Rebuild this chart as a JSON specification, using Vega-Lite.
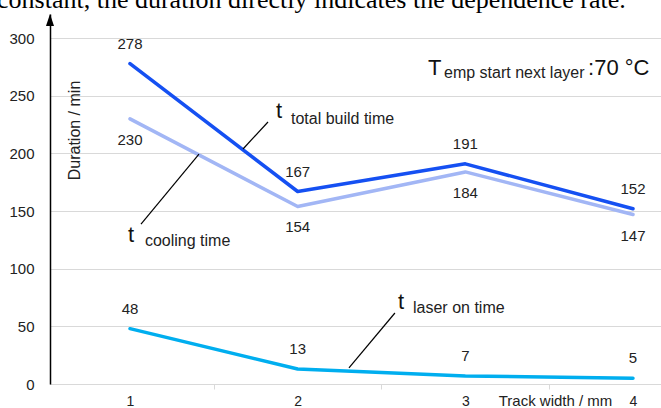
{
  "$schema": "https://vega.github.io/schema/vega-lite/v6.json",
  "width": 611,
  "height": 370,
  "autosize": {"type": "none"},
  "padding": {"left": 50, "top": 14, "right": 0, "bottom": 24},
  "background": "white",
  "config": {"view": {"stroke": null}, "font": "Liberation Sans"},
  "datasets": {
    "series": [
      {"track_width": 1, "series": "total build time", "minutes": 278},
      {"track_width": 2, "series": "total build time", "minutes": 167},
      {"track_width": 3, "series": "total build time", "minutes": 191},
      {"track_width": 4, "series": "total build time", "minutes": 152},
      {"track_width": 1, "series": "cooling time", "minutes": 230},
      {"track_width": 2, "series": "cooling time", "minutes": 154},
      {"track_width": 3, "series": "cooling time", "minutes": 184},
      {"track_width": 4, "series": "cooling time", "minutes": 147},
      {"track_width": 1, "series": "laser on time", "minutes": 48},
      {"track_width": 2, "series": "laser on time", "minutes": 13},
      {"track_width": 3, "series": "laser on time", "minutes": 7},
      {"track_width": 4, "series": "laser on time", "minutes": 5}
    ],
    "leaders": [
      {"track_width": 1.0656, "minutes": 138.8, "track_width_end": 1.4115, "minutes_end": 199.5},
      {"track_width": 1.823, "minutes": 227.3, "track_width_end": 1.674, "minutes_end": 203.9},
      {"track_width": 2.58, "minutes": 61.6, "track_width_end": 2.306, "minutes_end": 13.9}
    ],
    "notes": [
      {"kind": "big", "track_width": 1.871, "minutes": 230.7, "label": "t"},
      {"kind": "sub", "track_width": 1.96, "minutes": 225.6, "label": "total build time"},
      {"kind": "big", "track_width": 0.988, "minutes": 123.2, "label": "t"},
      {"kind": "sub", "track_width": 1.089, "minutes": 119.7, "label": "cooling time"},
      {"kind": "big", "track_width": 2.598, "minutes": 65.1, "label": "t"},
      {"kind": "sub", "track_width": 2.688, "minutes": 61.6, "label": "laser on time"},
      {"kind": "big", "track_width": 2.777, "minutes": 268.1, "label": "T"},
      {"kind": "sub", "track_width": 2.873, "minutes": 265.5, "label": "emp start next layer"},
      {"kind": "big", "track_width": 3.732, "minutes": 268.1, "label": ":70 °C"},
      {"kind": "head", "track_width": 0.207, "minutes": 325.8, "label": "constant, the duration directly indicates the dependence rate."}
    ],
    "arrow": [{"track_width": 0.5229, "minutes": 315.8}]
  },
  "encoding": {
    "x": {
      "field": "track_width",
      "type": "quantitative",
      "scale": {"domain": [0.5229, 4.167], "nice": false, "zero": false},
      "axis": {
        "values": [1, 1.5, 2, 2.5, 3, 3.5, 4],
        "labelExpr": "datum.value % 1 === 0 ? format(datum.value, 'd') : ''",
        "grid": false,
        "domainColor": "#d9d9d9",
        "domainWidth": 1,
        "tickColor": {"condition": {"test": "datum.value % 1 === 0", "value": "transparent"}, "value": "#d9d9d9"},
        "tickSize": 5,
        "labelPadding": 5,
        "labelFontSize": 14,
        "labelFont": "Liberation Sans",
        "labelColor": "#222222",
        "title": "Track width / mm",
        "titleFont": "Liberation Sans",
        "titleFontSize": 15,
        "titleFontWeight": "normal",
        "titleColor": "#222222",
        "titleX": 505,
        "titleY": 16,
        "titleAlign": "center",
        "titleBaseline": "middle"
      }
    },
    "y": {
      "field": "minutes",
      "type": "quantitative",
      "scale": {"domain": [0, 321], "nice": false},
      "axis": {
        "values": [0, 50, 100, 150, 200, 250, 300],
        "grid": true,
        "gridColor": "#d9d9d9",
        "gridWidth": 1,
        "domainColor": "#000000",
        "domainWidth": 1.5,
        "ticks": false,
        "tickSize": 0,
        "labelPadding": 16,
        "labelFontSize": 15,
        "labelFont": "Liberation Sans",
        "labelColor": "#222222",
        "title": "Duration / min",
        "titleFont": "Liberation Sans",
        "titleFontSize": 16,
        "titleFontWeight": "normal",
        "titleColor": "#222222",
        "titleAngle": 270,
        "titleX": 24,
        "titleY": 116,
        "titleAlign": "center",
        "titleBaseline": "middle"
      }
    }
  },
  "layer": [
    {
      "data": {"name": "series"},
      "mark": {"type": "line", "strokeWidth": 3.5, "strokeCap": "round", "strokeJoin": "round"},
      "encoding": {
        "color": {
          "field": "series",
          "type": "nominal",
          "scale": {"domain": ["cooling time", "total build time", "laser on time"], "range": ["#a2b6f5", "#1550f2", "#00aeef"]},
          "legend": null
        }
      }
    },
    {
      "data": {"name": "series"},
      "transform": [{"filter": "datum.series !== 'cooling time'"}],
      "mark": {"type": "text", "dy": -20, "fontSize": 15, "baseline": "middle", "align": "center", "color": "#222222", "font": "Liberation Sans"},
      "encoding": {"text": {"field": "minutes", "type": "quantitative"}}
    },
    {
      "data": {"name": "series"},
      "transform": [{"filter": "datum.series === 'cooling time'"}],
      "mark": {"type": "text", "dy": 21, "fontSize": 15, "baseline": "middle", "align": "center", "color": "#222222", "font": "Liberation Sans"},
      "encoding": {"text": {"field": "minutes", "type": "quantitative"}}
    },
    {
      "data": {"name": "leaders"},
      "mark": {"type": "rule", "color": "#000000", "strokeWidth": 1.2},
      "encoding": {
        "x2": {"field": "track_width_end"},
        "y2": {"field": "minutes_end"}
      }
    },
    {
      "data": {"name": "notes"},
      "transform": [{"filter": "datum.kind === 'big'"}],
      "mark": {"type": "text", "fontSize": 22, "align": "left", "baseline": "alphabetic", "color": "#111111", "font": "Liberation Sans"},
      "encoding": {"text": {"field": "label", "type": "nominal"}}
    },
    {
      "data": {"name": "notes"},
      "transform": [{"filter": "datum.kind === 'sub'"}],
      "mark": {"type": "text", "fontSize": 16, "align": "left", "baseline": "alphabetic", "color": "#222222", "font": "Liberation Sans"},
      "encoding": {"text": {"field": "label", "type": "nominal"}}
    },
    {
      "data": {"name": "notes"},
      "transform": [{"filter": "datum.kind === 'head'"}],
      "mark": {"type": "text", "fontSize": 26, "align": "left", "baseline": "alphabetic", "color": "#000000", "font": "Liberation Serif"},
      "encoding": {"text": {"field": "label", "type": "nominal"}}
    },
    {
      "data": {"name": "arrow"},
      "mark": {"type": "point", "shape": "M0,-1L0.667,1L-0.667,1Z", "size": 144, "filled": true, "color": "#000000", "opacity": 1},
      "encoding": {}
    }
  ]
}
